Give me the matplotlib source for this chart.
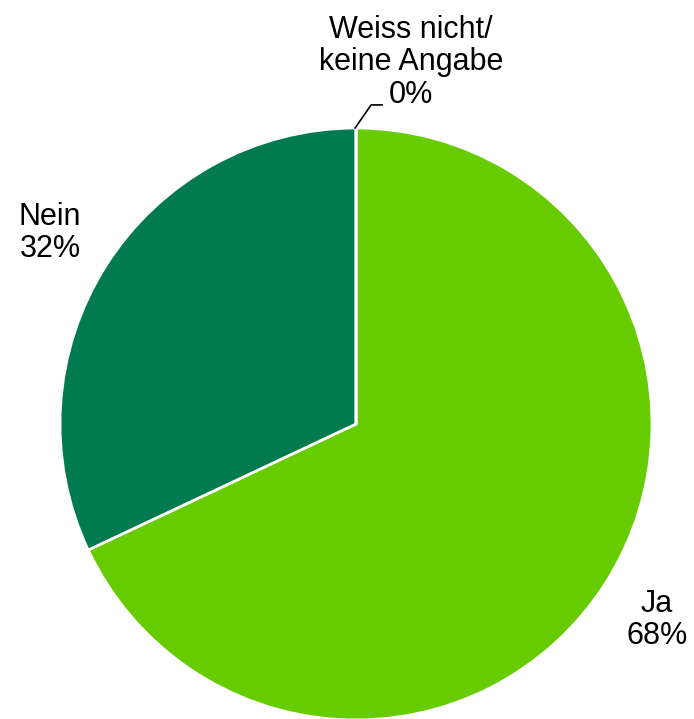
import matplotlib.pyplot as plt

plt.rcParams['font.family'] = ['Liberation Sans', 'DejaVu Sans']

labels = ['Ja', 'Nein', 'Weiss nicht/\nkeine Angabe']
values = [68, 32, 0]
colors = ['#66CC00', '#007A4E', '#9E9E9E']

fig = plt.figure(figsize=(6.94, 7.19), dpi=100)
ax = fig.add_axes([60 / 694, -1 / 719, 592 / 694, 592 / 719])

ax.pie(values, colors=colors, startangle=90, counterclock=False, radius=1,
       wedgeprops=dict(edgecolor='white', linewidth=2))
ax.set_xlim(-1, 1)
ax.set_ylim(-1, 1)
ax.set_aspect('equal')
ax.axis('off')

fs = 22
ax.text(-1.034, 0.645, f'{labels[1]}\n{values[1]}%', ha='center', va='center',
        fontsize=fs, linespacing=1.12, clip_on=False)
ax.text(1.017, -0.662, f'{labels[0]}\n{values[0]}%', ha='center', va='center',
        fontsize=fs, linespacing=1.12, clip_on=False)
ax.text(0.185, 1.222, f'{labels[2]}\n{values[2]}%', ha='center', va='center',
        fontsize=fs, linespacing=1.12, clip_on=False)
ax.plot([-0.003, 0.051, 0.088], [1.0, 1.078, 1.078], color='black', lw=1.2,
        clip_on=False)

fig.savefig('out.png', dpi=100)
